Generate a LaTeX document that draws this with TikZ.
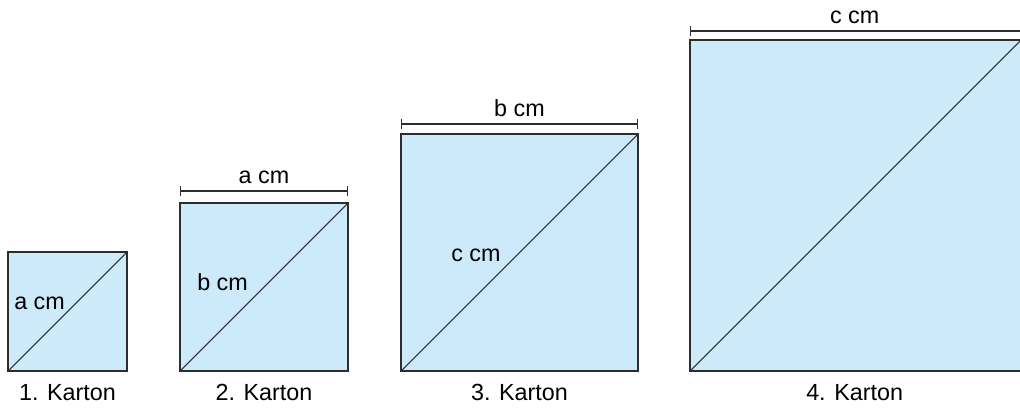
\documentclass[tikz,border=0pt]{standalone}
\usepackage{fontspec}
\setmainfont{Liberation Sans}
\usetikzlibrary{positioning,calc}
\definecolor{kartonblue}{RGB}{205,234,250}
\definecolor{linegray}{RGB}{45,45,45}
\tikzset{
  karton/.style={draw=linegray, fill=kartonblue, line width=0.9pt, rectangle, inner sep=0pt, outer sep=0pt, anchor=south west},
  diag/.style={draw=linegray, line width=0.8pt},
  dim/.style={draw=linegray, line width=0.9pt, |-|},
  lbl/.style={font=\fontsize{17.5}{20}\selectfont, text=black, inner sep=0pt}
}
\begin{document}
\begin{tikzpicture}[x=0.75pt, y=-0.75pt]
    \useasboundingbox (0,0) rectangle (1020,407);
    % Squares
    \node [karton, minimum size=89.25pt] (k1) at (8,371) {};
    \node [karton, minimum size=126pt] (k2) at (180,371) {};
    \node [karton, minimum size=177.75pt] (k3) at (401,371) {};
    \node [karton, minimum width=255pt, minimum height=248.25pt] (k4) at (690,371) {};
    \coordinate (k4top) at ($(k4.north west)+(331,0)$);

    % Diagonals
    \draw [diag] (k1.south west) -- (k1.north east);
    \draw [diag] (k2.south west) -- (k2.north east);
    \draw [diag] (k3.south west) -- (k3.north east);
    \draw [diag] (k4.south west) -- (k4top);

    % Diagonal labels
    \node [lbl, anchor=west] (d1) at (14,303) {a cm};
    \node [lbl, anchor=west] (d2) at (197,282) {b cm};
    \node [lbl, anchor=west] (d3) at (451,255) {c cm};

    % Dimension lines
    \coordinate (a2) at ($(k2.north west)+(0,-12)$);
    \coordinate (b2) at ($(k2.north east)+(0,-12)$);
    \coordinate (a3) at ($(k3.north west)+(0,-10)$);
    \coordinate (b3) at ($(k3.north east)+(0,-10)$);
    \coordinate (a4) at ($(k4.north west)+(0,-9)$);
    \coordinate (b4) at ($(k4.north east)+(0,-9)$);
    \draw [dim] (a2) -- node [lbl, above=5pt] (s2) {a cm} (b2);
    \draw [dim] (a3) -- node [lbl, above=5pt] (s3) {b cm} (b3);
    \draw [dim] (a4) -- node [lbl, above=5pt, xshift=-4pt] (s4) {c cm} (b4);

    % Names
    \node [lbl, below=10pt of k1] (n1) {1. Karton};
    \node [lbl, below=10pt of k2] (n2) {2. Karton};
    \node [lbl, below=10pt of k3] (n3) {3. Karton};
    \node [lbl, below=10pt of k4, xshift=-4pt] (n4) {4. Karton};
\end{tikzpicture}
\end{document}
